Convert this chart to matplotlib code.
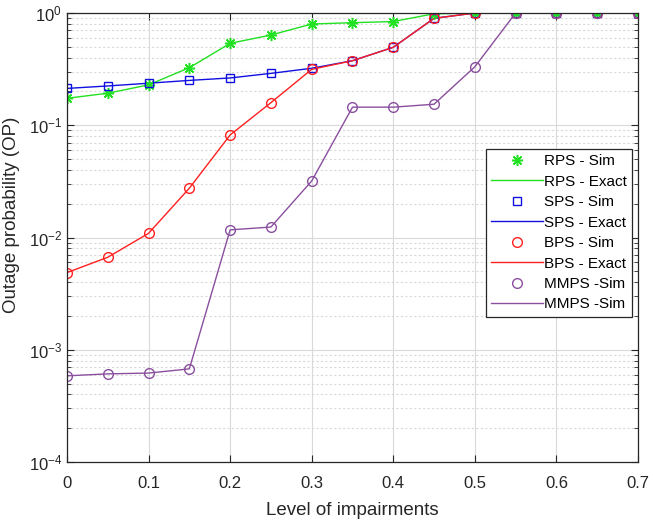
import numpy as np
import matplotlib.pyplot as plt
from matplotlib.ticker import LogLocator, NullFormatter

plt.rcParams['font.family'] = ['Liberation Sans', 'DejaVu Sans']
plt.rcParams['mathtext.fontset'] = 'custom'
plt.rcParams['mathtext.rm'] = 'Liberation Sans'

# Level of impairments
x = [0, 0.05, 0.1, 0.15, 0.2, 0.25, 0.3, 0.35, 0.4, 0.45, 0.5, 0.55, 0.6, 0.65, 0.7]

# Outage probability
rps = [0.174, 0.193, 0.229, 0.326, 0.537, 0.637, 0.798, 0.82, 0.84, 0.985, 1, 1, 1, 1, 1]
sps = [0.213, 0.224, 0.237, 0.251, 0.264, 0.29, 0.322, 0.376, 0.495, 0.897, 1, 1, 1, 1, 1]
bps = [0.00487, 0.00667, 0.0109, 0.0275, 0.082, 0.159, 0.315, 0.376, 0.495, 0.897, 1, 1, 1, 1, 1]
mmps = [0.000586, 0.00061, 0.00062, 0.000676, 0.0117, 0.0124, 0.0319, 0.145, 0.145, 0.154, 0.332, 1, 1, 1, 1]

labels = ['RPS - Sim', 'RPS - Exact', 'SPS - Sim', 'SPS - Exact',
          'BPS - Sim', 'BPS - Exact', 'MMPS -Sim', 'MMPS -Sim']

green = '#22e022'
blue = '#1010e0'
red = '#ff2020'
purple = '#8a4f9e'
star = (8, 2, 0)  # matlab style asterisk

fig = plt.figure(figsize=(6.53, 5.21), dpi=100)
ax = fig.add_axes([0.1026, 0.1132, 0.8744, 0.8618])

# exact curves (lines) and sim points (markers), markers on top
ax.plot(x, rps, color=green, lw=1)
ax.plot(x, sps, color=blue, lw=1)
ax.plot(x, bps, color=red, lw=1)
ax.plot(x, mmps, color=purple, lw=1)
ax.plot(x, rps, ls='none', marker=star, color=green, ms=8, mew=1.1)
ax.plot(x, sps, ls='none', marker='s', color=blue, mfc='none', ms=6, mew=1)
ax.plot(x, bps, ls='none', marker='o', color=red, mfc='none', ms=7, mew=1)
ax.plot(x, mmps, ls='none', marker='o', color=purple, mfc='none', ms=7, mew=1)

ax.set_yscale('log')
ax.set_xlim(0, 0.7)
ax.set_ylim(1e-4, 1)
ax.set_xticks(np.arange(0, 0.71, 0.1))
ax.set_xticklabels(['0', '0.1', '0.2', '0.3', '0.4', '0.5', '0.6', '0.7'])
ax.yaxis.set_minor_locator(LogLocator(base=10, subs=np.arange(2, 10)))
ax.yaxis.set_minor_formatter(NullFormatter())

ax.grid(True, which='major', color='#d9d9d9', lw=0.8)
ax.grid(True, which='minor', axis='y', color='#d9d9d9', lw=0.8, ls=(0, (2, 2)))
ax.set_axisbelow(True)

ax.tick_params(which='both', direction='in', top=True, right=True, labelsize=12, colors='#262626')
ax.tick_params(which='major', length=5)
ax.tick_params(which='minor', length=3)
ax.tick_params(axis='x', pad=10)
for s in ax.spines.values():
    s.set_color('#262626')
    s.set_linewidth(0.9)

ax.set_xlabel('Level of impairments', fontsize=13.5, color='#262626', labelpad=8)
ax.set_ylabel('Outage probability (OP)', fontsize=13.5, color='#262626')
ax.yaxis.set_label_coords(-0.082, 0.55)

handles = [
    plt.Line2D([], [], ls='none', marker=star, color=green, ms=8, mew=1.1),
    plt.Line2D([], [], color=green, lw=1),
    plt.Line2D([], [], ls='none', marker='s', color=blue, mfc='none', ms=6),
    plt.Line2D([], [], color=blue, lw=1),
    plt.Line2D([], [], ls='none', marker='o', color=red, mfc='none', ms=7),
    plt.Line2D([], [], color=red, lw=1),
    plt.Line2D([], [], ls='none', marker='o', color=purple, mfc='none', ms=7),
    plt.Line2D([], [], color=purple, lw=1),
]
leg = ax.legend(handles, labels, loc='upper right', bbox_to_anchor=(0.99, 0.697),
                borderaxespad=0, fontsize=11, fancybox=False, framealpha=1,
                edgecolor='#262626', handlelength=3.4, handletextpad=0.05,
                labelspacing=0.42, borderpad=0.35)
leg.get_frame().set_linewidth(0.9)

fig.savefig('out.png', dpi=100)
